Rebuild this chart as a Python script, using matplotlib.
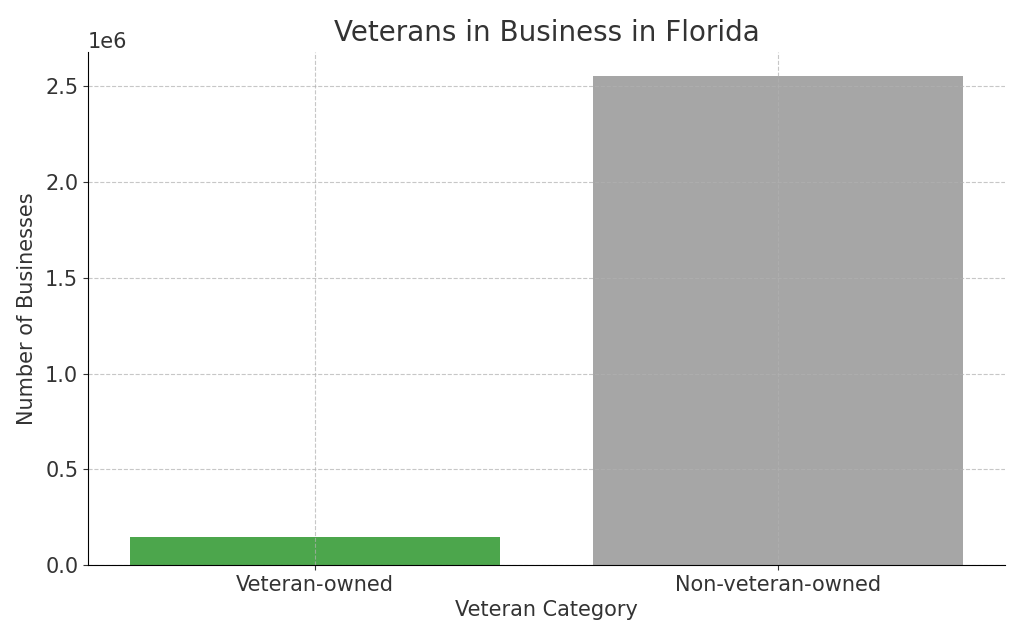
import matplotlib
matplotlib.use("Agg")
import matplotlib.pyplot as plt

categories = ["Veteran-owned", "Non-veteran-owned"]
values = [145000, 2552000]
colors = ["green", "gray"]

plt.rcParams['text.color'] = '#333333'
plt.rcParams['axes.labelcolor'] = '#333333'
plt.rcParams['xtick.color'] = '#333333'
plt.rcParams['ytick.color'] = '#333333'

fig = plt.figure(figsize=(10.24, 6.4), dpi=100)
ax = fig.add_axes([88/1024, 1-565/640, (1005-88)/1024, (565-52)/640])
ax.bar(categories, values, color=colors, alpha=0.7, width=0.8)
ax.set_title("Veterans in Business in Florida", fontsize=20, color='#333333', pad=8)
ax.set_xlabel("Veteran Category", fontsize=15, labelpad=4)
ax.set_ylabel("Number of Businesses", fontsize=15, labelpad=6)
ax.tick_params(labelsize=15)
ax.yaxis.get_offset_text().set_fontsize(15)
ax.grid(True, linestyle='--', alpha=0.7)
ax.spines['top'].set_visible(False)
ax.spines['right'].set_visible(False)
fig.savefig("out.png", dpi=100)
